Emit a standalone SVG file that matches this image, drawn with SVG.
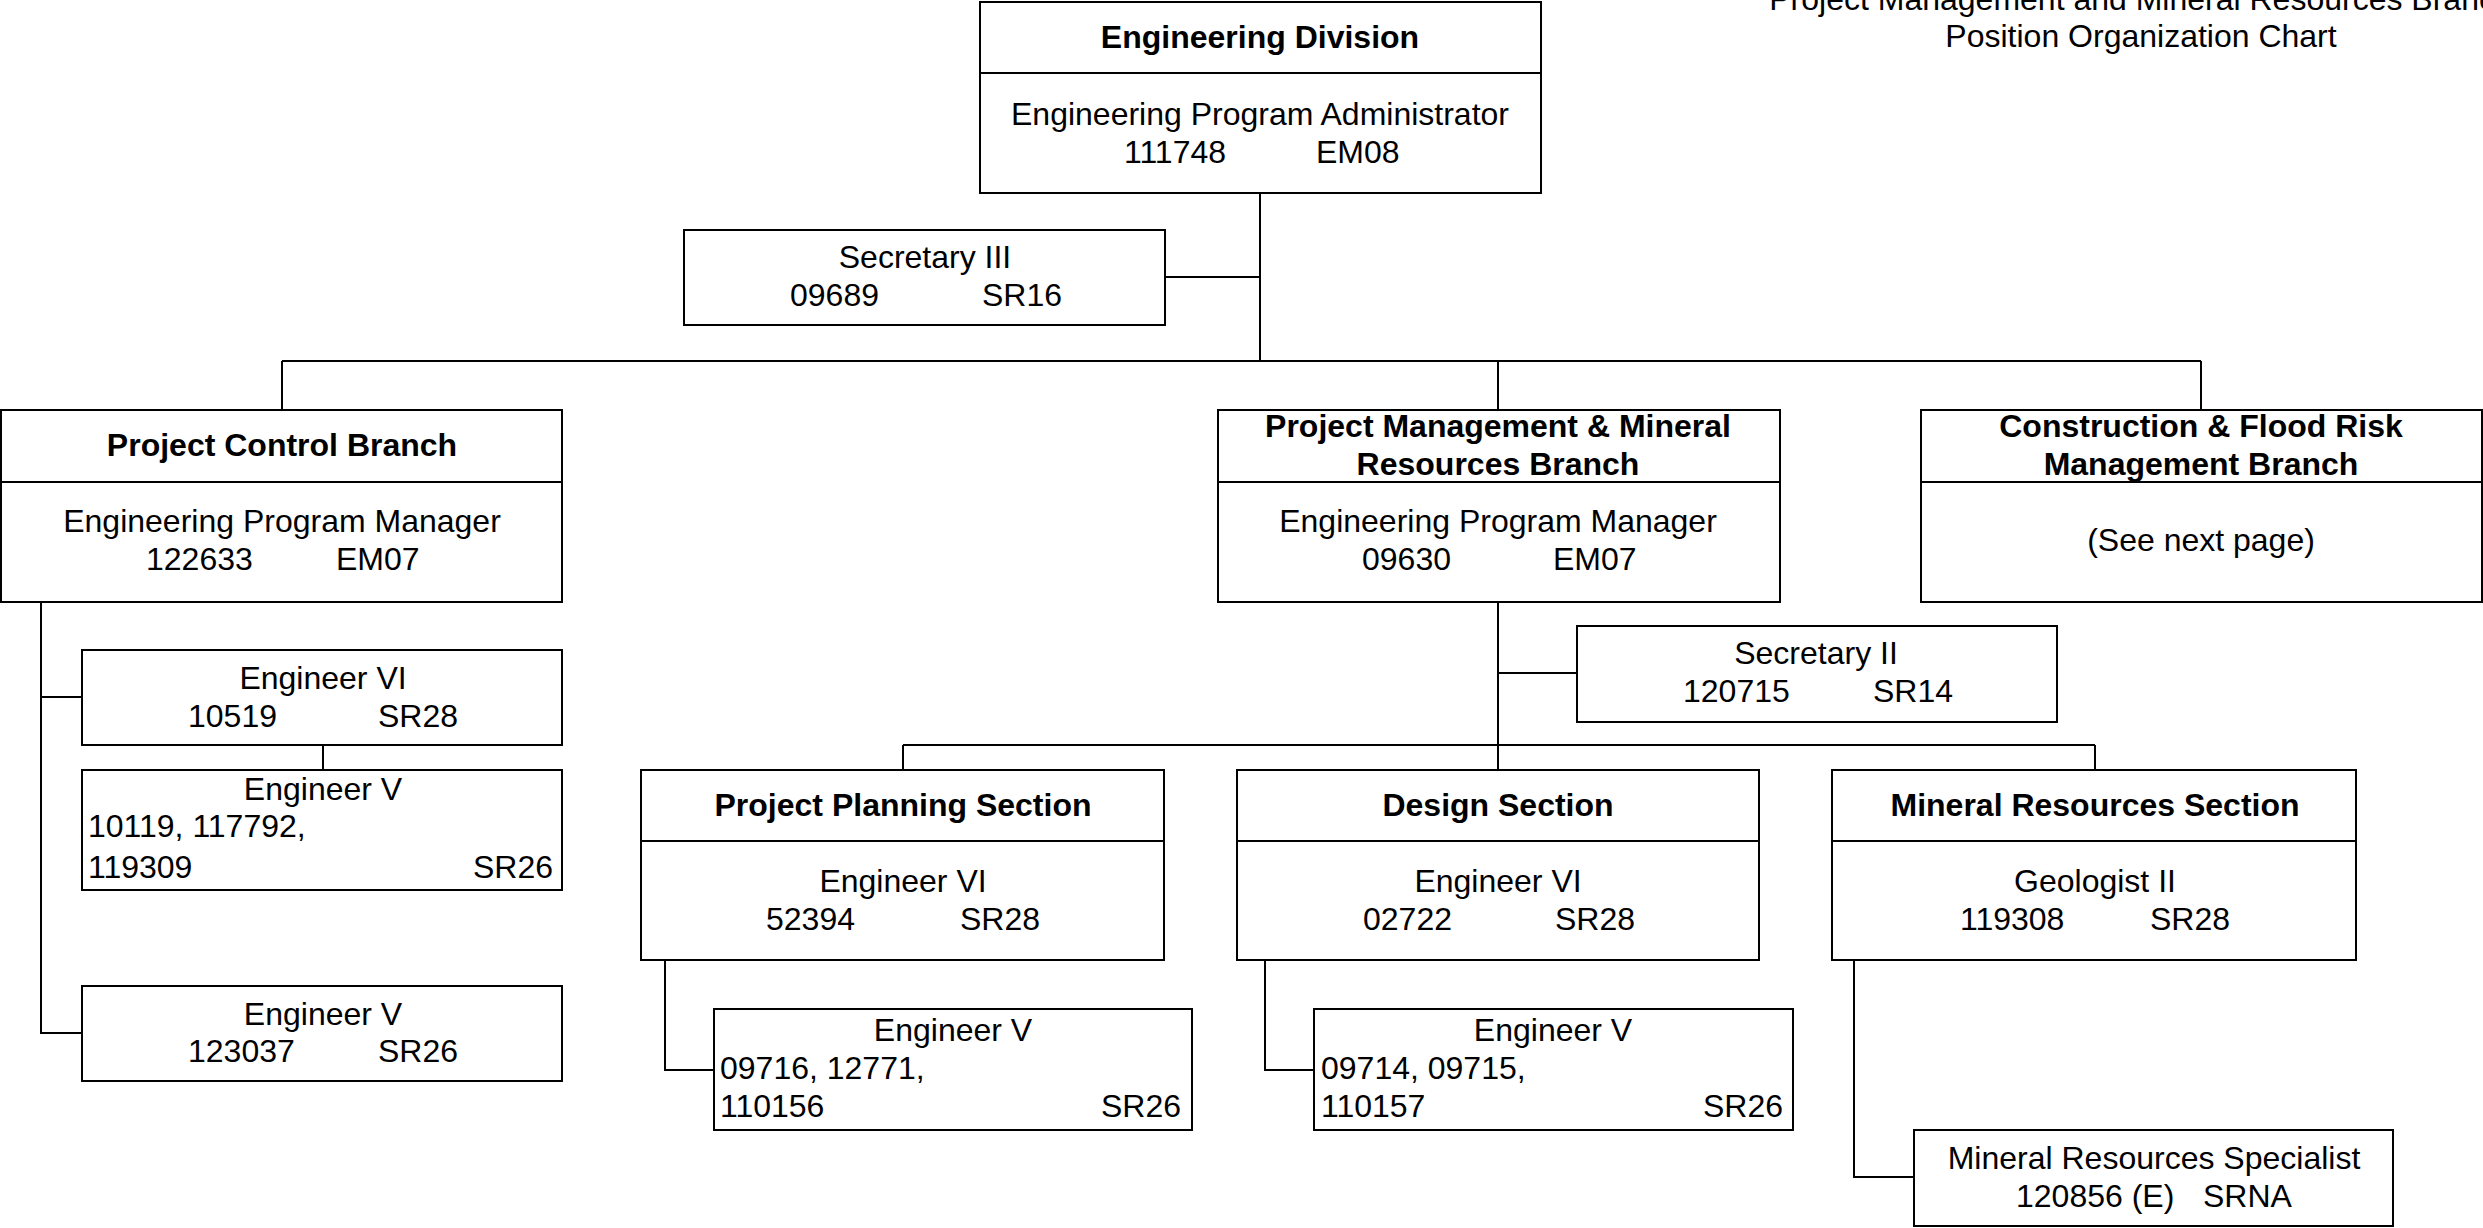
<svg xmlns="http://www.w3.org/2000/svg" width="2483" height="1228" viewBox="0 0 2483 1228">
<style>
.box{fill:#fff;stroke:#000;stroke-width:2}
.div{stroke:#000;stroke-width:2}
.conn{fill:none;stroke:#000;stroke-width:2}
text{font-family:"Liberation Sans",Arial,sans-serif;font-size:32px;fill:#000}
.b{font-weight:bold}
.c{text-anchor:middle}
.r{text-anchor:end}
</style>
<rect x="0" y="0" width="2483" height="1228" fill="#fff"/>
<g id="title">
<text class="c" x="2141" y="10">Project Management and Mineral Resources Branch</text>
<text class="c" x="2141" y="47">Position Organization Chart</text>
</g>
<g id="connectors">
<path class="conn" d="M1260 193 V361 M1165 277 H1260 M282 361 H2201 M282 361 V410 M1498 361 V410 M2201 361 V410"/>
<path class="conn" d="M41 602 V1033 H82 M41 697 H82 M323 745 V770"/>
<path class="conn" d="M1498 602 V745 M1498 673 H1577 M903 745 H2095 M903 745 V770 M1498 745 V770 M2095 745 V770"/>
<path class="conn" d="M665 960 V1070 H714 M1265 960 V1070 H1314 M1854 960 V1177 H1914"/>
</g>
<g id="engineering-division">
<rect class="box" x="980" y="2" width="561" height="191"/>
<line class="div" x1="980" y1="73" x2="1541" y2="73"/>
<text class="b c" x="1260" y="48">Engineering Division</text>
<text class="c" x="1260" y="125">Engineering Program Administrator</text>
<text y="163"><tspan x="1124">111748</tspan><tspan x="1316">EM08</tspan></text>
</g>
<g id="secretary-iii">
<rect class="box" x="684" y="230" width="481" height="95"/>
<text class="c" x="925" y="268">Secretary III</text>
<text y="306"><tspan x="790">09689</tspan><tspan x="982">SR16</tspan></text>
</g>
<g id="project-control-branch">
<rect class="box" x="1" y="410" width="561" height="192"/>
<line class="div" x1="1" y1="482" x2="562" y2="482"/>
<text class="b c" x="282" y="456">Project Control Branch</text>
<text class="c" x="282" y="532">Engineering Program Manager</text>
<text y="570"><tspan x="146">122633</tspan><tspan x="336">EM07</tspan></text>
</g>
<g id="pcb-engineer-vi">
<rect class="box" x="82" y="650" width="480" height="95"/>
<text class="c" x="323" y="689">Engineer VI</text>
<text y="727"><tspan x="188">10519</tspan><tspan x="378">SR28</tspan></text>
</g>
<g id="pcb-engineer-v-1">
<rect class="box" x="82" y="770" width="480" height="120"/>
<text class="c" x="323" y="800">Engineer V</text>
<text x="88" y="837">10119, 117792,</text>
<text x="88" y="878">119309</text>
<text class="r" x="553" y="878">SR26</text>
</g>
<g id="pcb-engineer-v-2">
<rect class="box" x="82" y="986" width="480" height="95"/>
<text class="c" x="323" y="1025">Engineer V</text>
<text y="1062"><tspan x="188">123037</tspan><tspan x="378">SR26</tspan></text>
</g>
<g id="pm-mr-branch">
<rect class="box" x="1218" y="410" width="562" height="192"/>
<line class="div" x1="1218" y1="482" x2="1780" y2="482"/>
<text class="b c" x="1498" y="437">Project Management &amp; Mineral</text>
<text class="b c" x="1498" y="475">Resources Branch</text>
<text class="c" x="1498" y="532">Engineering Program Manager</text>
<text y="570"><tspan x="1362">09630</tspan><tspan x="1553">EM07</tspan></text>
</g>
<g id="secretary-ii">
<rect class="box" x="1577" y="626" width="480" height="96"/>
<text class="c" x="1816" y="664">Secretary II</text>
<text y="702"><tspan x="1683">120715</tspan><tspan x="1873">SR14</tspan></text>
</g>
<g id="construction-flood-branch">
<rect class="box" x="1921" y="410" width="561" height="192"/>
<line class="div" x1="1921" y1="482" x2="2482" y2="482"/>
<text class="b c" x="2201" y="437">Construction &amp; Flood Risk</text>
<text class="b c" x="2201" y="475">Management Branch</text>
<text class="c" x="2201" y="551">(See next page)</text>
</g>
<g id="project-planning-section">
<rect class="box" x="641" y="770" width="523" height="190"/>
<line class="div" x1="641" y1="841" x2="1164" y2="841"/>
<text class="b c" x="903" y="816">Project Planning Section</text>
<text class="c" x="903" y="892">Engineer VI</text>
<text y="930"><tspan x="766">52394</tspan><tspan x="960">SR28</tspan></text>
</g>
<g id="pps-engineer-v">
<rect class="box" x="714" y="1009" width="478" height="121"/>
<text class="c" x="953" y="1041">Engineer V</text>
<text x="720" y="1079">09716, 12771,</text>
<text x="720" y="1117">110156</text>
<text class="r" x="1181" y="1117">SR26</text>
</g>
<g id="design-section">
<rect class="box" x="1237" y="770" width="522" height="190"/>
<line class="div" x1="1237" y1="841" x2="1759" y2="841"/>
<text class="b c" x="1498" y="816">Design Section</text>
<text class="c" x="1498" y="892">Engineer VI</text>
<text y="930"><tspan x="1363">02722</tspan><tspan x="1555">SR28</tspan></text>
</g>
<g id="ds-engineer-v">
<rect class="box" x="1314" y="1009" width="479" height="121"/>
<text class="c" x="1553" y="1041">Engineer V</text>
<text x="1321" y="1079">09714, 09715,</text>
<text x="1321" y="1117">110157</text>
<text class="r" x="1783" y="1117">SR26</text>
</g>
<g id="mineral-resources-section">
<rect class="box" x="1832" y="770" width="524" height="190"/>
<line class="div" x1="1832" y1="841" x2="2356" y2="841"/>
<text class="b c" x="2095" y="816">Mineral Resources Section</text>
<text class="c" x="2095" y="892">Geologist II</text>
<text y="930"><tspan x="1960">119308</tspan><tspan x="2150">SR28</tspan></text>
</g>
<g id="mineral-resources-specialist">
<rect class="box" x="1914" y="1130" width="479" height="96"/>
<text class="c" x="2154" y="1169">Mineral Resources Specialist</text>
<text y="1207"><tspan x="2016">120856 (E)</tspan><tspan x="2203">SRNA</tspan></text>
</g>
</svg>
